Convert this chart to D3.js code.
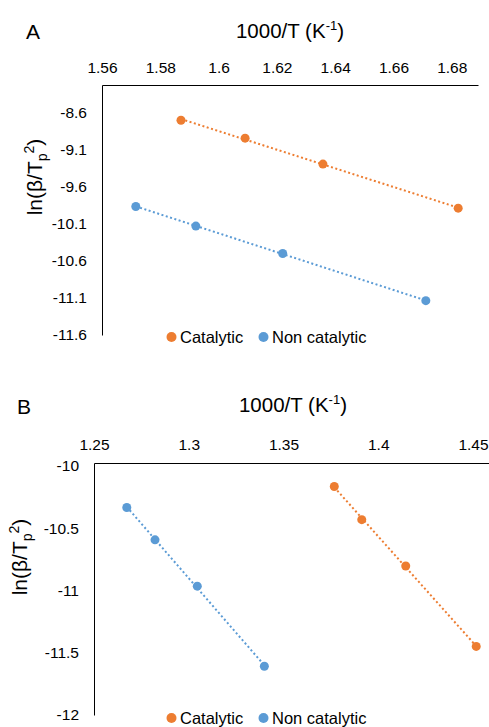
<!DOCTYPE html>
<html>
<head>
<meta charset="utf-8">
<script src="https://cdn.jsdelivr.net/npm/d3@7"></script>
<style>
  body { margin: 0; background: #fff; }
  svg { display: block; font-family: "Liberation Sans", Arial, sans-serif; }
</style>
</head>
<body>
<div id="chart"></div>
<script>
// panel A
const catXA = [1.5871, 1.6091, 1.6358, 1.6822];
const catYA = [-8.698, -8.940, -9.290, -9.886];
const nonXA = [1.5716, 1.5922, 1.6220, 1.6711];
const nonYA = [-9.863, -10.128, -10.499, -11.136];
const xTicksA = [1.56, 1.58, 1.60, 1.62, 1.64, 1.66, 1.68];
const yTicksA = [-8.6, -9.1, -9.6, -10.1, -10.6, -11.1, -11.6];

// panel B
const catXB = [1.3768, 1.3913, 1.4145, 1.4517];
const catYB = [-10.165, -10.431, -10.803, -11.449];
const nonXB = [1.2673, 1.2822, 1.3045, 1.3399];
const nonYB = [-10.333, -10.593, -10.965, -11.608];
const xTicksB = [1.25, 1.30, 1.35, 1.40, 1.45];
const yTicksB = [-10, -10.5, -11, -11.5, -12];

const seriesNames = ["Catalytic", "Non catalytic"];
const colors = ["#ED7D31", "#5B9BD5"];

const width = 489, height = 727;

const svg = d3.select("#chart").append("svg")
  .attr("width", width)
  .attr("height", height);

function fit(xs, ys) {
  const mx = d3.mean(xs), my = d3.mean(ys);
  const b = d3.sum(xs, (x, i) => (x - mx) * (ys[i] - my)) / d3.sum(xs, x => (x - mx) ** 2);
  return x => my + b * (x - mx);
}

function panel(cfg) {
  const g = svg.append("g");
  const x = d3.scaleLinear().domain(cfg.xDomain).range(cfg.xRange);
  const y = d3.scaleLinear().domain(cfg.yDomain).range(cfg.yRange);

  // top x axis
  const xa = g.append("g")
    .attr("transform", `translate(0,${cfg.yRange[1]})`)
    .call(d3.axisTop(x).tickValues(cfg.xTicks).tickSize(0).tickPadding(cfg.xPad)
      .tickFormat(d3.format("")));
  // left y axis
  const ya = g.append("g")
    .attr("transform", `translate(${cfg.xRange[0]},0)`)
    .call(d3.axisLeft(y).tickValues(cfg.yTicks).tickSize(0).tickPadding(15)
      .tickFormat(d => String(d).replace("\u2212", "-")));

  [xa, ya].forEach(a => {
    a.select(".domain").attr("stroke", "#000").attr("stroke-width", 1);
    a.selectAll("text").attr("font-size", 15.5).attr("fill", "#000")
      .attr("font-family", "Liberation Sans, Arial, sans-serif");
  });

  // panel letter
  g.append("text").attr("x", cfg.letterX).attr("y", cfg.letterY)
    .attr("font-size", 21).text(cfg.letter);

  // x title
  const xt = g.append("text")
    .attr("x", d3.mean(cfg.xRange)).attr("y", cfg.titleY)
    .attr("text-anchor", "middle").attr("font-size", 20.5);
  xt.append("tspan").text("1000/T (K");
  xt.append("tspan").attr("font-size", 13).attr("dy", -8).text("-1");
  xt.append("tspan").attr("dy", 8).text(")");

  // y title
  const yt = g.append("text")
    .attr("transform", `translate(${cfg.yTitleX},${cfg.yTitleY}) rotate(-90)`)
    .attr("text-anchor", "middle").attr("font-size", 21);
  yt.append("tspan").text("ln(\u03B2/T");
  yt.append("tspan").attr("font-size", 14).attr("dy", 5).text("p");
  yt.append("tspan").attr("font-size", 14).attr("dy", -13).text("2");
  yt.append("tspan").attr("dy", 8).text(")");

  // series
  cfg.series.forEach((s, i) => {
    const f = fit(s.xs, s.ys);
    const [x0, x1] = d3.extent(s.xs);
    g.append("line")
      .attr("x1", x(x0)).attr("y1", y(f(x0)))
      .attr("x2", x(x1)).attr("y2", y(f(x1)))
      .attr("stroke", colors[i]).attr("stroke-width", 2)
      .attr("stroke-dasharray", "2,2.5");
    g.append("g").selectAll("circle")
      .data(s.xs.map((v, j) => [v, s.ys[j]]))
      .join("circle")
      .attr("cx", d => x(d[0])).attr("cy", d => y(d[1]))
      .attr("r", 4.5).attr("fill", colors[i]);
  });

  // legend
  const lg = g.append("g").attr("transform", `translate(0,${cfg.legendY})`);
  const lx = [171.5, 263.5];
  seriesNames.forEach((n, i) => {
    lg.append("circle").attr("cx", lx[i]).attr("cy", 0).attr("r", 5).attr("fill", colors[i]);
    lg.append("text").attr("x", lx[i] + 8.5).attr("y", 6).attr("font-size", 16.5).text(n);
  });
}

panel({
  letter: "A", letterX: 26, letterY: 39, titleY: 38, yTitleX: 42, yTitleY: 177,
  xDomain: [1.56, 1.689], xRange: [102, 478],
  yDomain: [-11.6, -8.2216], yRange: [335, 85],
  xTicks: xTicksA, yTicks: yTicksA, xPad: 12,
  series: [{xs: catXA, ys: catYA}, {xs: nonXA, ys: nonYA}],
  legendY: 337
});

panel({
  letter: "B", letterX: 17, letterY: 414, titleY: 412, yTitleX: 27, yTitleY: 557,
  xDomain: [1.25, 1.46], xRange: [94, 94 + 0.21 * 1895],
  yDomain: [-12, -9.976], yRange: [715, 463],
  xTicks: xTicksB, yTicks: yTicksB, xPad: 13,
  series: [{xs: catXB, ys: catYB}, {xs: nonXB, ys: nonYB}],
  legendY: 718
});
</script>
</body>
</html>
